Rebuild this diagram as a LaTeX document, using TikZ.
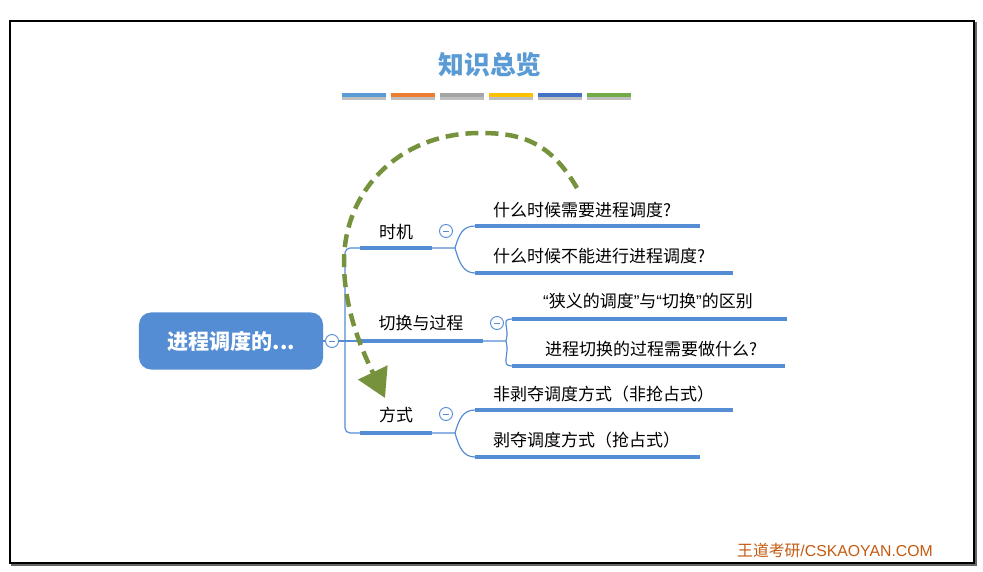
\documentclass[tikz,border=0pt]{standalone}
\usepackage{fontspec}
\setmainfont{Liberation Sans}
\newfontfamily\cjk{Noto Sans CJK SC}
\usetikzlibrary{arrows.meta}
\definecolor{mapblue}{RGB}{84,141,212}
\definecolor{titleblue}{RGB}{91,155,213}
\definecolor{arcgreen}{RGB}{118,146,60}
\definecolor{markbrown}{RGB}{197,90,17}
\definecolor{swA}{RGB}{91,155,213}
\definecolor{swB}{RGB}{237,125,49}
\definecolor{swC}{RGB}{165,165,165}
\definecolor{swD}{RGB}{255,192,0}
\definecolor{swE}{RGB}{68,114,196}
\definecolor{swF}{RGB}{112,173,71}
\newcommand{\latq}[1]{{\rmfamily #1}}
\tikzset{
  root/.style   = {rectangle, rounded corners=0.36cm, fill=mapblue, text=white,
                   minimum width=5.52cm, minimum height=1.71cm,
                   font=\cjk\bfseries\fontsize{18}{20}\selectfont},
  fold/.style   = {circle, draw=mapblue, fill=white, line width=0.8pt,
                   minimum size=0.39cm, inner sep=0pt,
                   path picture={\draw[mapblue, line width=0.7pt]
                     ([xshift=-0.09cm]path picture bounding box.center) --
                     ([xshift=0.09cm]path picture bounding box.center);}},
  topic/.style  = {inner sep=0pt, font=\cjk\fontsize{14.5}{17}\selectfont},
  leaf/.style   = {topic, anchor=west},
  bar/.style    = {line width=3.4pt, draw=mapblue},
  link/.style   = {line width=1pt, draw=mapblue},
  swatch/.style = {line width=0.13cm},
  arc/.style    = {arcgreen, line width=0.135cm, dash pattern=on 0.39cm off 0.21cm,
                   -{Triangle[length=0.85cm, width=0.95cm]}},
}

\begin{document}
\begin{tikzpicture}[x=0.03cm, y=-0.03cm]

  \useasboundingbox (0,0) rectangle (983,572);
  \draw[black!60, line width=1.6pt] (12,23) rectangle (976,565);
  \draw[black, line width=1.6pt, fill=white] (10,21) rectangle (974,563);

  \node[font=\cjk\bfseries\fontsize{22}{26}\selectfont, text=titleblue] (title) at (490,65) {知识总览};
  \foreach \c [count=\i] in {swA,swB,swC,swD,swE,swF} {
    \draw[swatch, black!25] ({342+49*(\i-1)},97.5) -- ++(44,0);
    \draw[swatch, \c] ({342+49*(\i-1)},95) -- ++(44,0);
  }

  \node[root] (root) at (231,341) {进程调度的...};
  \node[fold] (c0) at (332,341) {};

  \node[topic] (b1) at (396,232) {时机};
  \node[fold]  (c1) at (446,231) {};
  \node[topic] (b2) at (421,323) {切换与过程};
  \node[fold]  (c2) at (497,323) {};
  \node[topic] (b3) at (396,415) {方式};
  \node[fold]  (c3) at (446,414) {};

  \node[leaf] (l11) at (493,210) {什么时候需要进程调度?};
  \node[leaf] (l12) at (493,256) {什么时候不能进行进程调度?};
  \node[leaf] (l21) at (543,301) {\latq{“}狭义的调度\latq{”}与\latq{“}切换\latq{”}的区别};
  \node[leaf] (l22) at (545,349) {进程切换的过程需要做什么?};
  \node[leaf] (l31) at (493,394) {非剥夺调度方式（非抢占式）};
  \node[leaf] (l32) at (493,440) {剥夺调度方式（抢占式）};

  \coordinate (t1a) at (360,248); \coordinate (t1b) at (432,248); \coordinate (t1s) at (455,248);
  \coordinate (t2a) at (360,341); \coordinate (t2b) at (483,341); \coordinate (t2s) at (506,341);
  \coordinate (t3a) at (360,433); \coordinate (t3b) at (432,433); \coordinate (t3s) at (455,433);
  \coordinate (k11) at (475,226); \coordinate (k12) at (475,273);
  \coordinate (k21) at (512,319); \coordinate (k22) at (512,366);
  \coordinate (k31) at (475,410); \coordinate (k32) at (475,457);

  % trunk
  \draw[link] (root) -- (c0);
  \draw[link] (c0) -- (t2a);
  \draw[link, rounded corners=0.15cm] (t1a) -- (345,248) -- (345,433) -- (t3a);

  % branches
  \draw[bar] (t1a) -- (t1b);
  \draw[bar] (t2a) -- (t2b);
  \draw[bar] (t3a) -- (t3b);
  \draw[link] (t1b) -- (t1s) .. controls +(4,-14) and +(-12,0) .. (k11);
  \draw[link] (t1s) .. controls +(4,14) and +(-12,0) .. (k12);
  \draw[link] (t2b) -- (t2s) .. controls +(4,-14) and +(-12,0) .. (k21);
  \draw[link] (t2s) .. controls +(4,14) and +(-12,0) .. (k22);
  \draw[link] (t3b) -- (t3s) .. controls +(4,-14) and +(-12,0) .. (k31);
  \draw[link] (t3s) .. controls +(4,14) and +(-12,0) .. (k32);

  % leaves
  \draw[bar] (k11) -- (700,226);
  \draw[bar] (k12) -- (733,273);
  \draw[bar] (k21) -- (787,319);
  \draw[bar] (k22) -- (785,366);
  \draw[bar] (k31) -- (733,410);
  \draw[bar] (k32) -- (700,457);

  \draw[arc] (577,188) .. controls (550,142) and (522,133) .. (480,133)
             .. controls (400,133) and (344,190) .. (344,262)
             .. controls (344,310) and (362,350) .. (385,398);

  \node[anchor=east, text=markbrown, font=\fontsize{13.5}{15}\selectfont] (mark) at (937,550)
    {{\cjk 王道考研}/CSKAOYAN.COM};

\end{tikzpicture}
\end{document}
